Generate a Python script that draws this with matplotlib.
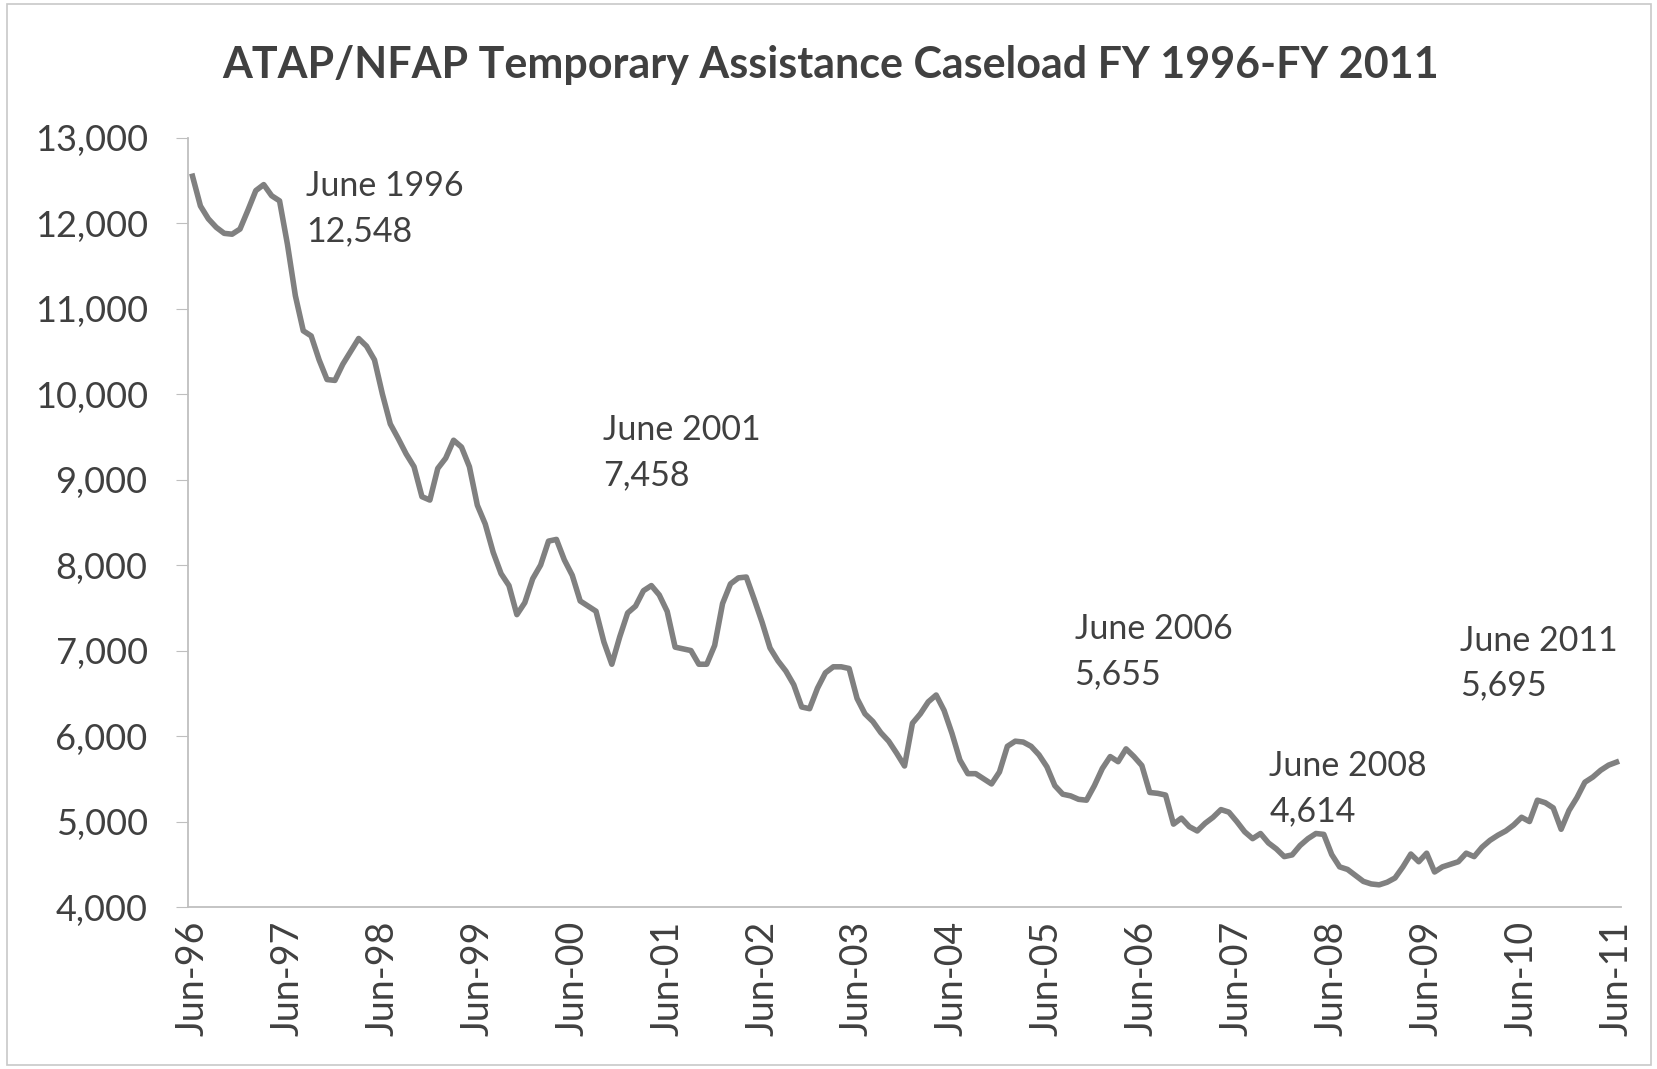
import numpy as np
import matplotlib
matplotlib.use("Agg")
import matplotlib.pyplot as plt
from matplotlib.ticker import StrMethodFormatter

plt.rcParams['font.family'] = ['Lato', 'DejaVu Sans']

title = "ATAP/NFAP Temporary Assistance Caseload FY 1996-FY 2011"

# monthly caseload, Jun-96 .. Jun-11
caseload = [
    12548, 12200, 12050, 11950, 11880, 11870, 11930, 12150, 12380, 12450, 12320, 12260,
    11750, 11150, 10740, 10680, 10400, 10170, 10160, 10350, 10500, 10650, 10560, 10400,
    10000, 9650, 9480, 9300, 9150, 8800, 8760, 9130, 9250, 9460, 9380, 9150,
    8700, 8480, 8150, 7900, 7760, 7420, 7560, 7840, 8000, 8280, 8300, 8060,
    7880, 7580, 7520, 7460, 7100, 6840, 7160, 7440, 7520, 7700, 7760, 7650,
    7458, 7040, 7020, 7000, 6840, 6840, 7060, 7550, 7780, 7850, 7860, 7600,
    7330, 7030, 6880, 6760, 6600, 6340, 6320, 6560, 6740, 6810, 6810, 6790,
    6440, 6260, 6170, 6040, 5940, 5800, 5650, 6150, 6260, 6400, 6480, 6300,
    6030, 5720, 5560, 5560, 5500, 5440, 5580, 5880, 5940, 5930, 5880, 5780,
    5640, 5420, 5320, 5300, 5260, 5250, 5420, 5620, 5760, 5700, 5850, 5760,
    5655, 5340, 5330, 5310, 4970, 5040, 4940, 4890, 4980, 5050, 5140, 5110,
    5000, 4880, 4800, 4860, 4750, 4680, 4590, 4610, 4720, 4800, 4860, 4850,
    4614, 4470, 4440, 4370, 4300, 4270, 4260, 4290, 4340, 4470, 4620, 4530,
    4630, 4410, 4470, 4500, 4530, 4630, 4590, 4700, 4780, 4840, 4890, 4960,
    5050, 5000, 5250, 5220, 5160, 4910, 5130, 5280, 5460, 5520, 5600, 5660,
    5695,
]

tick_labels = ['Jun-96', 'Jun-97', 'Jun-98', 'Jun-99', 'Jun-00', 'Jun-01', 'Jun-02',
               'Jun-03', 'Jun-04', 'Jun-05', 'Jun-06', 'Jun-07', 'Jun-08', 'Jun-09',
               'Jun-10', 'Jun-11']

# callouts: (month index, text)
callout_months = [0, 60, 120, 144, 180]
callout_names = ['June 1996', 'June 2001', 'June 2006', 'June 2008', 'June 2011']

x = np.arange(len(caseload))

fig = plt.figure(figsize=(16.58, 10.69), dpi=100)
fig.patch.set_facecolor('white')
ax = fig.add_axes([0.1134, 0.1515, 0.8643, 0.7198])

ax.plot(x, caseload, color='#808080', lw=4.0, solid_joinstyle='round')

ax.set_xlim(-0.57, len(caseload) - 1 + 0.57)
ax.set_ylim(4000, 13000)
ax.set_yticks(np.arange(4000, 13001, 1000))
ax.yaxis.set_major_formatter(StrMethodFormatter('{x:,.0f}'))
ax.set_xticks(x[::12])
ax.set_xticklabels(tick_labels, rotation=90)

for s in ['top', 'right']:
    ax.spines[s].set_visible(False)
ax.spines['left'].set_color('#bfbfbf')
ax.spines['bottom'].set_color('#bfbfbf')
ax.spines['left'].set_linewidth(1.3)
ax.spines['bottom'].set_linewidth(1.3)
ax.tick_params(axis='y', length=9, color='#bfbfbf', labelsize=26, labelcolor='#404040', pad=20)
ax.tick_params(axis='x', length=0, labelsize=27, labelcolor='#404040', pad=10)

# label positions in data units (month, value)
label_pos = [(14.4, 12166), (51.9, 9316), (111.5, 6985), (136.1, 5389), (160.2, 6854)]
for (lx, ly), m, name in zip(label_pos, callout_months, callout_names):
    ax.text(lx, ly, f"{name}\n{caseload[m]:,}", fontsize=24.5, color='#404040',
            ha='left', va='center', linespacing=1.5)

fig.text(0.501, 0.939, title, fontsize=31, fontweight='bold', color='#404040',
         ha='center', va='center')

fig.add_artist(plt.Rectangle((0.004, 0.004), 0.992, 0.992, transform=fig.transFigure,
                             fill=False, edgecolor='#c8c8c8', lw=1.2))

plt.savefig("out.png", dpi=100)
